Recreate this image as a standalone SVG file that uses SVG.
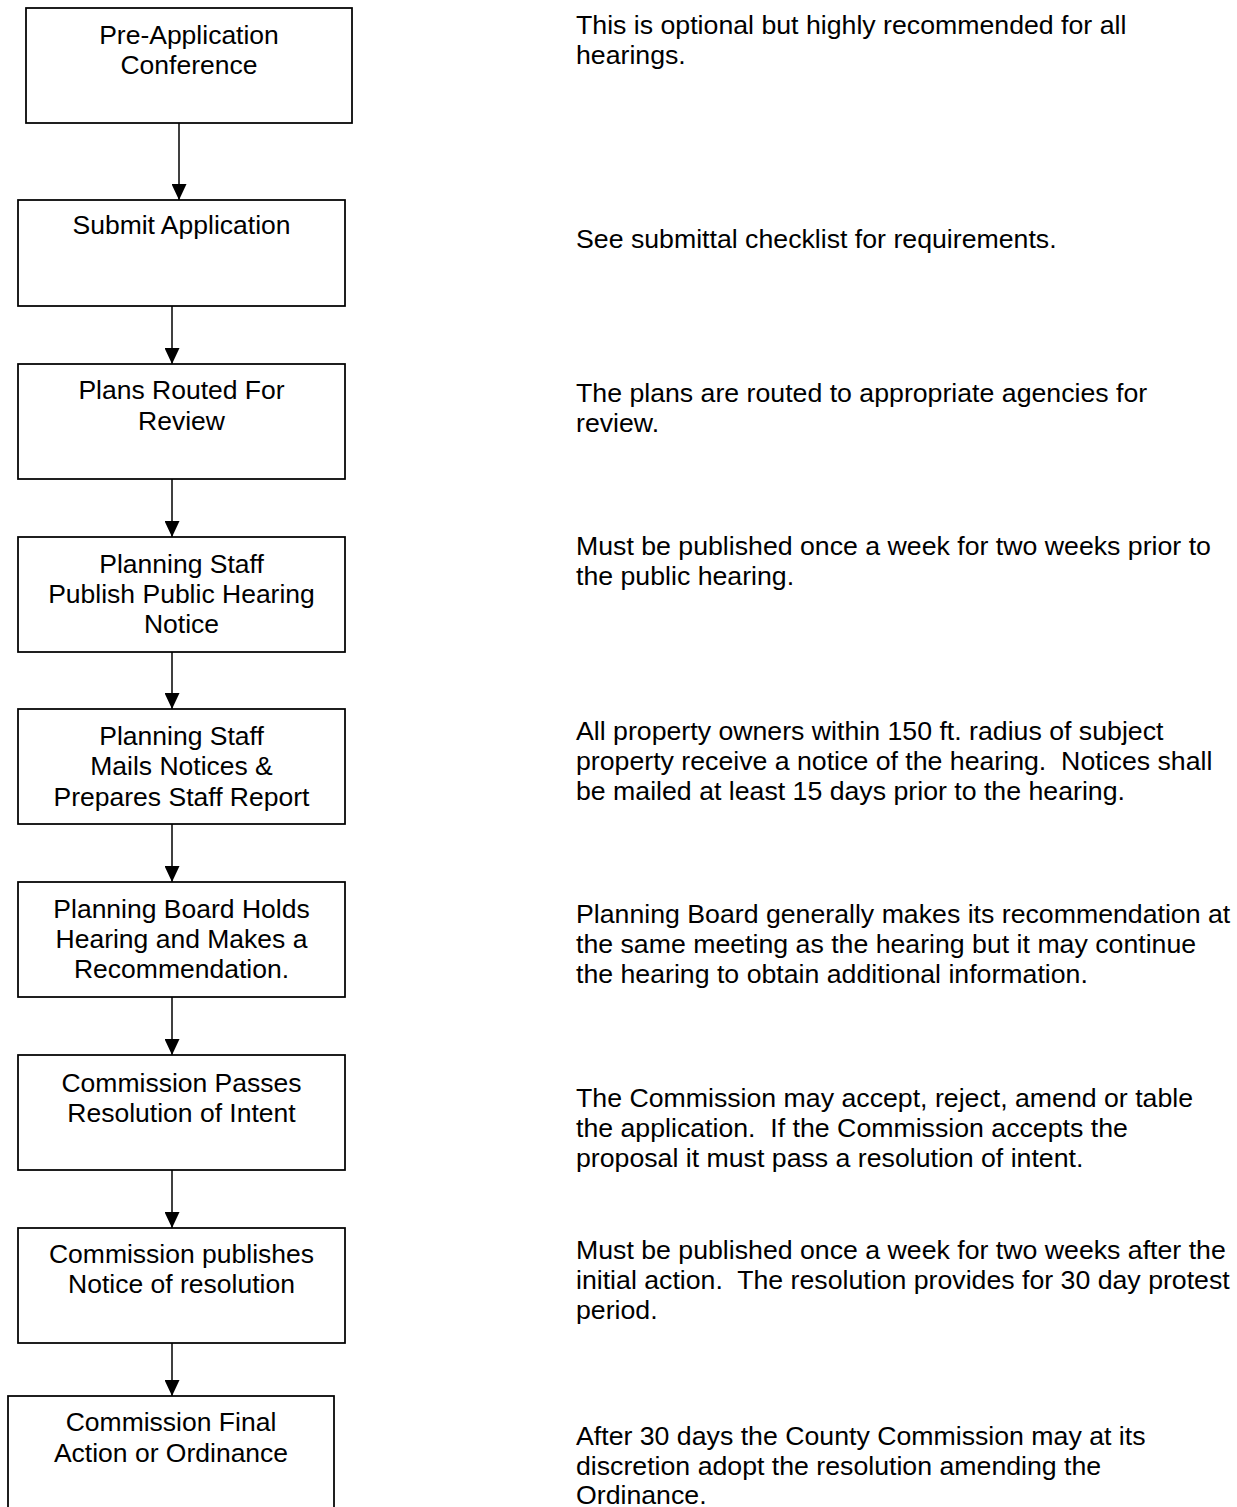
<svg xmlns="http://www.w3.org/2000/svg" width="1237" height="1507" viewBox="0 0 1237 1507">
<style>
.box{fill:#fff;stroke:#000;stroke-width:1.75}
.bt{font-family:"Liberation Sans",Arial,sans-serif;font-size:26.5px;fill:#000;text-anchor:middle}
.nt{font-family:"Liberation Sans",Arial,sans-serif;font-size:26.7px;fill:#000}
.conn{stroke:#000;stroke-width:1.5;fill:none}
</style>
<defs>
<marker id="ah" viewBox="0 0 16 15" refX="16" refY="7.5" markerWidth="16" markerHeight="15" markerUnits="userSpaceOnUse" orient="auto">
<path d="M0,0 L16,7.5 L0,15 z" fill="#000"/>
</marker>
</defs>
<rect width="1237" height="1507" fill="#fff"/>
<g id="connectors">
<line class="conn" x1="179" y1="123" x2="179" y2="200" marker-end="url(#ah)"/>
<line class="conn" x1="172" y1="306" x2="172" y2="364" marker-end="url(#ah)"/>
<line class="conn" x1="172" y1="479" x2="172" y2="537" marker-end="url(#ah)"/>
<line class="conn" x1="172" y1="652" x2="172" y2="709" marker-end="url(#ah)"/>
<line class="conn" x1="172" y1="824" x2="172" y2="882" marker-end="url(#ah)"/>
<line class="conn" x1="172" y1="997" x2="172" y2="1055" marker-end="url(#ah)"/>
<line class="conn" x1="172" y1="1170" x2="172" y2="1228" marker-end="url(#ah)"/>
<line class="conn" x1="172" y1="1343" x2="172" y2="1396" marker-end="url(#ah)"/>
</g>
<g id="n1"><rect class="box" x="26" y="8" width="326" height="115"/>
<text class="bt" x="189" y="44">Pre-Application</text><text class="bt" x="189" y="74">Conference</text></g>
<g id="n2"><rect class="box" x="18" y="200" width="327" height="106"/>
<text class="bt" x="181.5" y="234">Submit Application</text></g>
<g id="n3"><rect class="box" x="18" y="364" width="327" height="115"/>
<text class="bt" x="181.5" y="399">Plans Routed For</text><text class="bt" x="181.5" y="430">Review</text></g>
<g id="n4"><rect class="box" x="18" y="537" width="327" height="115"/>
<text class="bt" x="181.5" y="573">Planning Staff</text><text class="bt" x="181.5" y="603">Publish Public Hearing</text><text class="bt" x="181.5" y="633">Notice</text></g>
<g id="n5"><rect class="box" x="18" y="709" width="327" height="115"/>
<text class="bt" x="181.5" y="745">Planning Staff</text><text class="bt" x="181.5" y="775">Mails Notices &amp;</text><text class="bt" x="181.5" y="806">Prepares Staff Report</text></g>
<g id="n6"><rect class="box" x="18" y="882" width="327" height="115"/>
<text class="bt" x="181.5" y="918">Planning Board Holds</text><text class="bt" x="181.5" y="948">Hearing and Makes a</text><text class="bt" x="181.5" y="978">Recommendation.</text></g>
<g id="n7"><rect class="box" x="18" y="1055" width="327" height="115"/>
<text class="bt" x="181.5" y="1092">Commission Passes</text><text class="bt" x="181.5" y="1122">Resolution of Intent</text></g>
<g id="n8"><rect class="box" x="18" y="1228" width="327" height="115"/>
<text class="bt" x="181.5" y="1263">Commission publishes</text><text class="bt" x="181.5" y="1293">Notice of resolution</text></g>
<g id="n9"><rect class="box" x="8" y="1396" width="326" height="115"/>
<text class="bt" x="171" y="1431">Commission Final</text><text class="bt" x="171" y="1462">Action or Ordinance</text></g>
<g id="notes">
<text class="nt" x="576" y="34">This is optional but highly recommended for all</text>
<text class="nt" x="576" y="64">hearings.</text>
<text class="nt" x="576" y="248">See submittal checklist for requirements.</text>
<text class="nt" x="576" y="402">The plans are routed to appropriate agencies for</text>
<text class="nt" x="576" y="432">review.</text>
<text class="nt" x="576" y="555">Must be published once a week for two weeks prior to</text>
<text class="nt" x="576" y="585">the public hearing.</text>
<text class="nt" x="576" y="740">All property owners within 150 ft. radius of subject</text>
<text class="nt" x="576" y="770" xml:space="preserve">property receive a notice of the hearing.  Notices shall</text>
<text class="nt" x="576" y="800">be mailed at least 15 days prior to the hearing.</text>
<text class="nt" x="576" y="923">Planning Board generally makes its recommendation at</text>
<text class="nt" x="576" y="953">the same meeting as the hearing but it may continue</text>
<text class="nt" x="576" y="983">the hearing to obtain additional information.</text>
<text class="nt" x="576" y="1107">The Commission may accept, reject, amend or table</text>
<text class="nt" x="576" y="1137" xml:space="preserve">the application.  If the Commission accepts the</text>
<text class="nt" x="576" y="1167">proposal it must pass a resolution of intent.</text>
<text class="nt" x="576" y="1259">Must be published once a week for two weeks after the</text>
<text class="nt" x="576" y="1289" xml:space="preserve">initial action.  The resolution provides for 30 day protest</text>
<text class="nt" x="576" y="1319">period.</text>
<text class="nt" x="576" y="1445">After 30 days the County Commission may at its</text>
<text class="nt" x="576" y="1475">discretion adopt the resolution amending the</text>
<text class="nt" x="576" y="1504">Ordinance.</text>
</g>
</svg>
